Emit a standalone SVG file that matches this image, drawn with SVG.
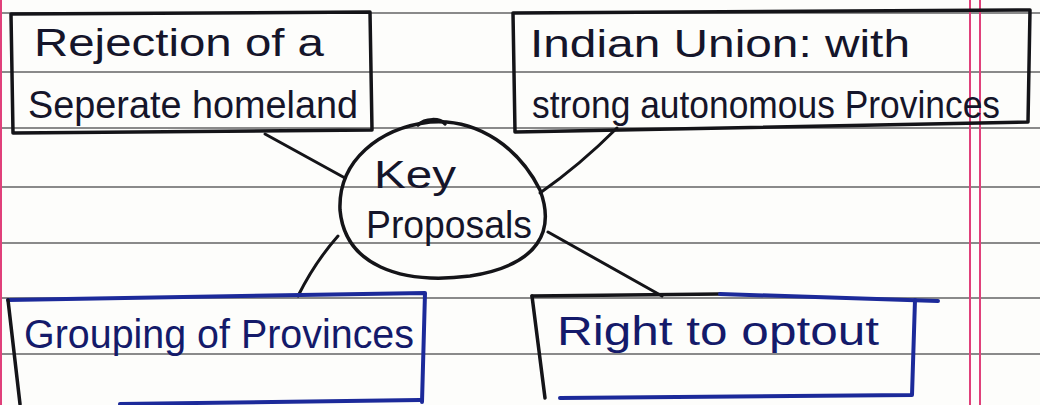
<svg xmlns="http://www.w3.org/2000/svg" width="1040" height="405" viewBox="0 0 1040 405">
<style>
.rule{stroke:#8a8a8a;stroke-width:2;fill:none}
.margin{stroke:#e0407a;stroke-width:2;fill:none}
.ink{stroke:#141418;stroke-width:3.5;fill:none;stroke-linejoin:round;stroke-linecap:round}
.blue{stroke:#1c2a9a;stroke-width:4;fill:none;stroke-linejoin:round;stroke-linecap:round}
.conn{stroke:#141418;stroke-width:3;fill:none;stroke-linecap:round}
.t{font-family:"Liberation Sans",Arial,sans-serif;font-size:38px;fill:#15152a;font-weight:400}
.tb{font-family:"Liberation Sans",Arial,sans-serif;font-size:40px;fill:#141a6a;font-weight:400}
.big{font-size:38px}
</style>
<rect width="1040" height="405" fill="#fdfdfb"/>
<g id="paper">
<line class="rule" x1="0" y1="13" x2="1040" y2="13"/>
<line class="rule" x1="0" y1="72" x2="1040" y2="72"/>
<line class="rule" x1="0" y1="128" x2="1040" y2="128"/>
<line class="rule" x1="0" y1="187" x2="1040" y2="187"/>
<line class="rule" x1="0" y1="243" x2="1040" y2="243"/>
<line class="rule" x1="0" y1="298" x2="1040" y2="298"/>
<line class="rule" x1="0" y1="354" x2="1040" y2="354"/>
<line class="margin" x1="970" y1="0" x2="970" y2="405"/>
<line class="margin" x1="980" y1="0" x2="980" y2="405"/>
<line class="margin" x1="1" y1="0" x2="1" y2="405"/>
</g>
<g id="connectors">
<path class="conn" d="M265 134 L345 178"/>
<path class="conn" d="M617 128 Q580 165 540 193"/>
<path class="conn" d="M338 236 Q315 262 298 296"/>
<path class="conn" d="M548 232 L662 296"/>
</g>
<g id="center">
<path class="ink" d="M340 210 C338 160 380 128 430 122 C480 118 520 150 540 190 C555 230 540 265 470 276 C400 285 345 265 340 210 Z"/>
<path class="ink" d="M418 125 C425 118 440 118 445 124" stroke-width="2.5"/>
<text class="t big" x="374" y="188" textLength="82" lengthAdjust="spacingAndGlyphs">Key</text>
<text class="t big" x="366" y="238" textLength="166" lengthAdjust="spacingAndGlyphs">Proposals</text>
</g>
<g id="rejection">
<path class="ink" d="M11 14 L370 12 L372 130 L13 133 Z"/>
<text class="t" x="34" y="56" textLength="290" lengthAdjust="spacingAndGlyphs">Rejection of a</text>
<text class="t" x="28" y="118" textLength="330" lengthAdjust="spacingAndGlyphs">Seperate homeland</text>
</g>
<g id="indian-union">
<path class="ink" d="M513 13 L1030 10 L1028 122 L515 132 Z"/>
<text class="t" x="530" y="57" textLength="380" lengthAdjust="spacingAndGlyphs">Indian Union: with</text>
<text class="t" x="532" y="118" textLength="468" lengthAdjust="spacingAndGlyphs">strong autonomous Provinces</text>
</g>
<g id="grouping">
<path class="blue" d="M8 300 L425 293 L422 402" stroke="#14205a"/>
<path class="ink" d="M8 300 L20 404"/>
<path class="blue" d="M120 404 L420 400"/>
<text class="tb" x="24" y="348" textLength="390" lengthAdjust="spacingAndGlyphs" fill="#10103a">Grouping of Provinces</text>
</g>
<g id="opt-out">
<path class="ink" d="M532 296 L720 294"/>
<path class="blue" d="M720 294 L938 301"/>
<path class="blue" d="M915 300 L912 395 L560 398"/>
<path class="ink" d="M532 296 L545 398"/>
<text class="tb" x="557" y="345" textLength="322" lengthAdjust="spacingAndGlyphs">Right to optout</text>
</g>
</svg>
